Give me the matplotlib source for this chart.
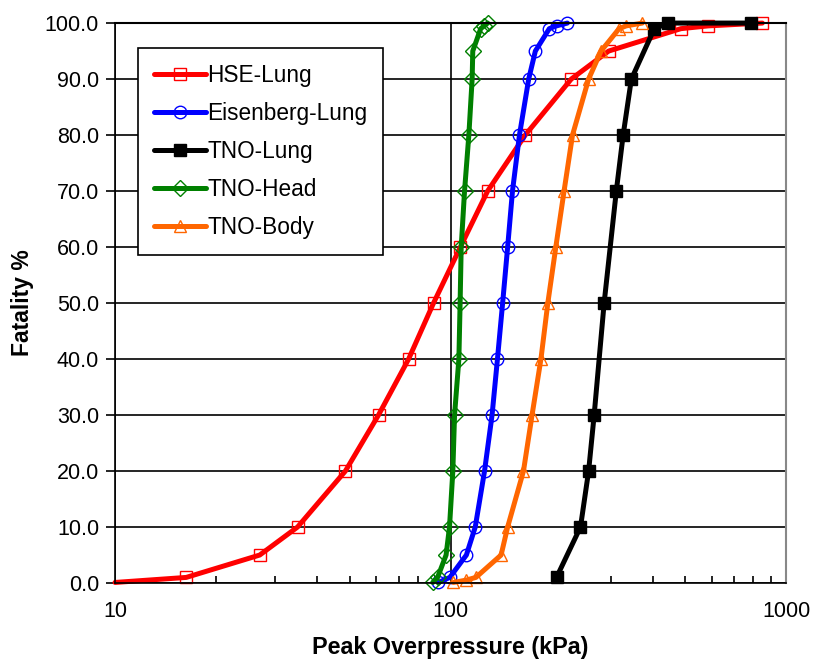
import matplotlib
matplotlib.use("Agg")
import matplotlib.pyplot as plt
from matplotlib.ticker import FixedLocator, LogLocator, NullFormatter

plt.rcParams['font.family'] = ['Liberation Sans', 'DejaVu Sans']

# Fatality probability curves vs peak overpressure
hse_x = [10, 16.3, 27, 35, 48.6, 61, 75, 89, 107, 129, 167, 229, 296, 486, 587, 850]
hse_y = [0.1, 1, 5, 10, 20, 30, 40, 50, 60, 70, 80, 90, 95, 99, 99.5, 100]

eis_x = [92, 99.5, 111.5, 118.5, 126.3, 133, 138, 143, 148, 153, 160.5, 171, 179, 197, 207, 223]
eis_y = [0.1, 1, 5, 10, 20, 30, 40, 50, 60, 70, 80, 90, 95, 99, 99.5, 100]

tnol_x = [207, 244, 258, 268, 287, 312, 327, 346, 405, 446, 787]
tnol_y = [1, 10, 20, 30, 50, 70, 80, 90, 99, 100, 100]

tnoh_x = [88.5, 91.5, 97, 99.3, 101.6, 102.8, 105.9, 106.8, 107.6, 110.1, 113.4, 116, 116.5, 123, 126, 129]
tnoh_y = [0.1, 1, 5, 10, 20, 30, 40, 50, 60, 70, 80, 90, 95, 99, 99.5, 100]

tnob_x = [102, 111, 119, 141.5, 148, 165, 175, 186, 195, 206, 218, 231, 258, 281, 318, 334, 373]
tnob_y = [0.1, 0.5, 1, 5, 10, 20, 30, 40, 50, 60, 70, 80, 90, 95, 99, 99.5, 100]

y_ticks = [0, 10, 20, 30, 40, 50, 60, 70, 80, 90, 100]
x_ticks = [10, 100, 1000]

fig = plt.figure(figsize=(8.13, 6.59), dpi=100)
ax = fig.add_axes([0.1415, 0.1153, 0.8253, 0.8497])

lw = 3.6
ms = 9
series = [
    ("HSE-Lung", hse_x, hse_y, "#FF0000", "s", "none", list(range(1, len(hse_x)))),
    ("Eisenberg-Lung", eis_x, eis_y, "#0000FF", "o", "none", None),
    ("TNO-Lung", tnol_x, tnol_y, "#000000", "s", "#000000", None),
    ("TNO-Head", tnoh_x, tnoh_y, "#008000", "D", "none", None),
    ("TNO-Body", tnob_x, tnob_y, "#FF6600", "^", "none", None),
]
for label, xs, ys, col, mk, fc, mev in series:
    ax.plot(xs, ys, color=col, lw=lw, marker=mk, markersize=ms if mk != "D" else ms - 1,
            markerfacecolor=fc, markeredgecolor=col, markeredgewidth=1.0,
            markevery=mev, label=label, clip_on=False, solid_capstyle='round')

ax.set_xscale('log')
ax.set_xlim(10, 1000)
ax.set_ylim(0, 100)

ax.xaxis.set_major_locator(FixedLocator(x_ticks))
ax.xaxis.set_minor_locator(LogLocator(base=10, subs=range(2, 10)))
ax.xaxis.set_minor_formatter(NullFormatter())
ax.set_xticks(x_ticks)
ax.set_xticklabels([str(v) for v in x_ticks])
ax.set_yticks(y_ticks)
ax.set_yticklabels([f"{v:.1f}" for v in y_ticks])

ax.grid(True, which='major', color='black', lw=1.2)
ax.set_axisbelow(True)
ax.tick_params(axis='x', which='both', direction='in', length=5, width=1.2,
               labelsize=15.5, pad=13)
ax.tick_params(axis='x', which='major', length=0)
ax.tick_params(axis='y', direction='out', length=6.5, width=1.2, labelsize=15.5, pad=5)
for sp in ax.spines.values():
    sp.set_linewidth(1.2)
    sp.set_color('black')
ax.spines['top'].set_linewidth(1.5)
ax.spines['right'].set_color('#888888')
ax.spines['right'].set_linewidth(1.5)

ax.set_xlabel("Peak Overpressure (kPa)", fontsize=16.8, fontweight='bold', labelpad=10)
ax.set_ylabel("Fatality %", fontsize=16.5, fontweight='bold', labelpad=8)

leg = ax.legend(loc='upper left', bbox_to_anchor=(0.0343, 0.955), fontsize=16.3,
                frameon=True, fancybox=False, edgecolor='black', framealpha=1,
                handlelength=2.3, handletextpad=0.05, labelspacing=0.66,
                borderpad=0.7, borderaxespad=0)
leg.get_frame().set_linewidth(1.2)

fig.savefig("out.png", dpi=100)
